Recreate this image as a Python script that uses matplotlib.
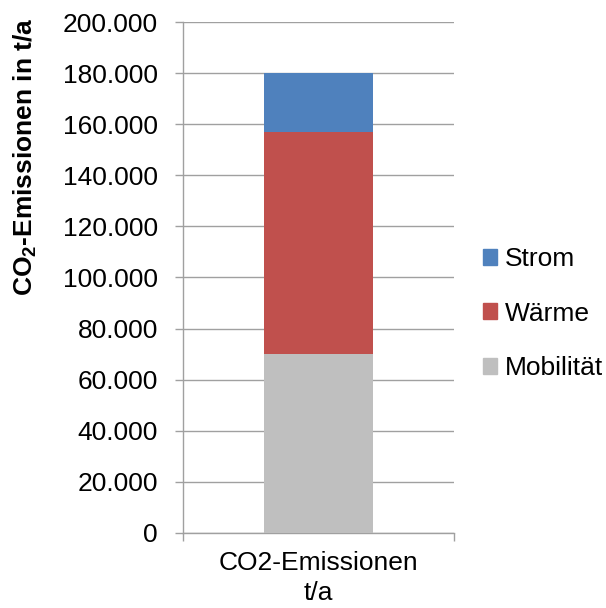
import matplotlib
matplotlib.use('Agg')
import matplotlib.pyplot as plt
from matplotlib.patches import Patch
from matplotlib.ticker import FuncFormatter

plt.rcParams['font.family'] = ['Liberation Sans', 'DejaVu Sans']

# emissions by sector, t/a
category = ['CO2-Emissionen\nt/a']
sectors = ['Mobilität', 'Wärme', 'Strom']
values = [70000, 87000, 23000]
colors = ['#BFBFBF', '#C0504D', '#4F81BD']
yticks = list(range(0, 200001, 20000))

grid_col = '#A0A0A0'
fs = 19

fig = plt.figure(figsize=(6.06, 6.08), dpi=100)
ax = fig.add_axes([0.302, 0.1239, 0.447, 0.8394])

bottom = 0
for name, v, c in zip(sectors, values, colors):
    ax.bar(0, v, width=0.4, bottom=bottom, color=c, label=name, zorder=3)
    bottom += v

ax.set_xlim(-0.5, 0.5)
ax.set_ylim(0, 200000)
ax.set_yticks(yticks)
ax.yaxis.set_major_formatter(FuncFormatter(lambda v, p: f'{int(v):,}'.replace(',', '.')))
ax.grid(axis='y', color=grid_col, linewidth=1.0, zorder=0)

# category edges get the tick marks, label sits in the middle
ax.set_xticks([-0.5, 0.5])
ax.set_xticklabels(['', ''])
ax.set_xticks([0], minor=True)
ax.set_xticklabels(category, minor=True, fontsize=fs, linespacing=1.35)
ax.tick_params(axis='x', which='minor', length=0, pad=13)
ax.tick_params(axis='x', which='major', length=6, color=grid_col, width=1)
ax.tick_params(axis='y', length=6, color=grid_col, width=1, labelsize=fs, pad=12)

for s in ['top', 'right']:
    ax.spines[s].set_visible(False)
for s in ['left', 'bottom']:
    ax.spines[s].set_color(grid_col)
    ax.spines[s].set_linewidth(1.0)

fig.text(0.041, 0.742, r'CO$_\mathregular{2}$-Emissionen in t/a', rotation=90,
         ha='center', va='center', fontsize=fs, fontweight='bold')

handles = [Patch(color=c, label=n) for n, c in zip(sectors, colors)][::-1]
fig.legend(handles=handles, loc='center left', bbox_to_anchor=(0.775, 0.484),
           frameon=False, fontsize=fs, handlelength=0.55, handleheight=0.55,
           handletextpad=0.3, labelspacing=1.15, borderpad=0)

fig.savefig('out.png', dpi=100)
